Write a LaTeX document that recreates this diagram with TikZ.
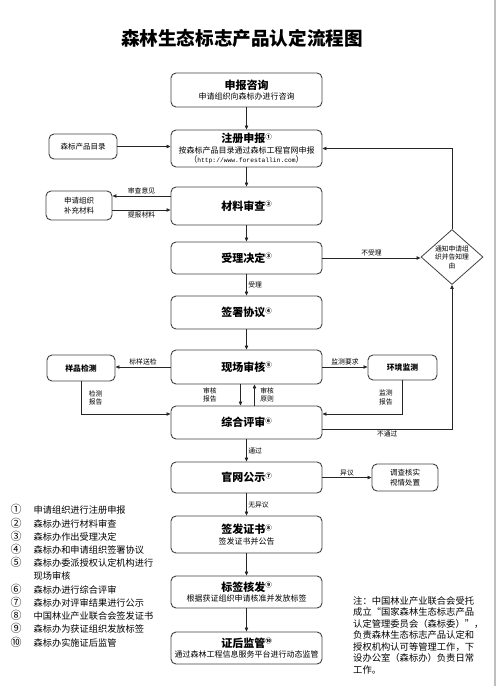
\documentclass[tikz,border=0pt]{standalone}
\usepackage{fontspec}
\setmainfont{Noto Sans CJK SC}
\setmonofont{Liberation Mono}
\usetikzlibrary{arrows.meta,shapes.geometric}

\tikzset{
  mainbox/.style={draw=black!75, line width=0.9pt, rounded corners=5pt,
    minimum width=151pt, inner sep=0pt, align=center,
    font=\fontsize{8}{10.5}\selectfont},
  sidebox/.style={draw=black!75, line width=0.9pt, rounded corners=5pt,
    inner sep=0pt, align=center, font=\fontsize{7.5}{10}\selectfont},
  decision/.style={draw=black!75, line width=0.8pt, diamond, aspect=1.13,
    minimum width=62pt, minimum height=55pt, inner sep=0pt, align=center,
    font=\fontsize{6.8}{8.5}\selectfont},
  arr/.style={-{Triangle[length=4pt,width=3.4pt]}, line width=0.7pt, draw=black!85},
  tag/.style={font=\fontsize{6.8}{8.5}\selectfont, inner sep=1.5pt, align=center},
}
\newcommand{\stepname}[2]{{\fontsize{11}{11}\selectfont\bfseries #1\raisebox{3.5pt}{\fontsize{6.5}{6.5}\selectfont #2}}}
\newcommand{\itemno}[1]{{\fontsize{11}{11}\selectfont #1}}

\begin{document}
\begin{tikzpicture}[x=1pt, y=-1pt]
	\useasboundingbox (0,0) rectangle (498,686);
	\draw[black!25, line width=1.5pt] (495,0) -- (495,686);

	\node[font=\fontsize{18.6}{20}\selectfont\bfseries] (title) at (242,38) {森林生态标志产品认定流程图};

	% main steps
	\node[mainbox, minimum height=34pt] (consult) at (246.5,90) {\stepname{申报咨询}{}\\申请组织向森标办进行咨询};
	\node[mainbox, minimum height=37pt] (reg) at (246.5,148.5) {\stepname{注册申报}{①}\\按森标产品目录通过森标工程官网申报\\[-1.5pt]（\texttt{\fontsize{6.3}{8}\selectfont http://www.forestallin.com}）};
	\node[mainbox, minimum height=38pt] (review) at (246.5,206) {\stepname{材料审查}{②}};
	\node[mainbox, minimum height=32pt] (decide) at (246.5,258) {\stepname{受理决定}{③}};
	\node[mainbox, minimum height=33pt] (sign) at (246.5,312.5) {\stepname{签署协议}{④}};
	\node[mainbox, minimum height=34pt] (audit) at (246.5,367) {\stepname{现场审核}{⑤}};
	\node[mainbox, minimum height=33pt] (judge) at (246.5,422.5) {\stepname{综合评审}{⑥}};
	\node[mainbox, minimum height=31pt] (publish) at (246.5,477.5) {\stepname{官网公示}{⑦}};
	\node[mainbox, minimum height=37pt] (certify) at (246.5,534.5) {\stepname{签发证书}{⑧}\\签发证书并公告};
	\node[mainbox, minimum height=32pt] (tagging) at (246.5,592) {\stepname{标签核发}{⑨}\\根据获证组织申请核准并发放标签};
	\node[mainbox, minimum height=32pt] (monitor) at (246.5,648) {\stepname{证后监管}{⑩}\\通过森林工程信息服务平台进行动态监管};

	% side boxes
	\node[sidebox, minimum width=68pt, minimum height=25pt] (catalog) at (83,146.5) {森标产品目录};
	\node[sidebox, minimum width=66pt, minimum height=29pt] (supp) at (79,205.5) {申请组织\\补充材料};
	\node[sidebox, minimum width=68pt, minimum height=26pt, font=\fontsize{7.8}{10}\selectfont\bfseries] (sample) at (81,368) {样品检测};
	\node[sidebox, minimum width=69pt, minimum height=25pt, font=\fontsize{7.8}{10}\selectfont\bfseries] (env) at (402.5,367.5) {环境监测};
	\node[sidebox, minimum width=66pt, minimum height=27pt] (probe) at (405,477.5) {调查核实\\视情处置};
	\node[decision] (notify) at (452,257) {通知申请组\\织并告知理\\由};

	% connectors
	\draw[arr] (consult) -- (reg);
	\draw[arr] (catalog.east) -- (catalog.east -| reg.west);
	\draw[arr] (notify.north) |- (reg.east);
	\draw[arr] (reg) -- (review);
	\coordinate (opinion) at ([yshift=10pt]review.west);
	\coordinate (resubmit) at ([yshift=-4pt]review.west);
	\draw[arr] (opinion) -- (opinion -| supp.east) node[tag, midway, above] {审查意见};
	\draw[arr] (resubmit -| supp.east) -- (resubmit) node[tag, midway, below] {提报材料};
	\draw[arr] (review) -- (decide);
	\draw[arr] (decide.east) -- (decide.east -| notify.west) node[tag, midway, above] {不受理};
	\draw[arr] (decide) -- (sign) node[tag, midway, right] {受理};
	\draw[arr] (sign) -- (audit);
	\draw[arr] (audit.west) -- (audit.west -| sample.east) node[tag, midway, above] {标样送检};
	\draw[arr] (audit.east) -- (audit.east -| env.west) node[tag, midway, above] {监测要求};
	\coordinate (intake) at ([yshift=8.5pt]judge.west);
	\coordinate (outtake) at ([yshift=8.5pt]judge.east);
	\coordinate (reject) at ([yshift=-6.5pt]judge.east);
	\draw[arr] (sample.south) |- (intake) node[tag, pos=0.25, right, xshift=6pt] {检测\\报告};
	\draw[arr] (env.south) |- (outtake) node[tag, pos=0.25, left, xshift=-8pt] {监测\\报告};
	\draw[arr] ([xshift=-6pt]audit.south) -- ([xshift=-6pt]judge.north) node[tag, midway, left, xshift=-22pt] {审核\\报告};
	\draw[arr] ([xshift=8pt]judge.north) -- ([xshift=8pt]audit.south) node[tag, midway, right, xshift=4pt] {审核\\原则};
	\draw[arr] (reject) -| (notify.south) node[tag, pos=0.25, below] {不通过};
	\draw[arr] (judge) -- (publish) node[tag, midway, right] {通过};
	\draw[arr] (publish.east) -- (publish.east -| probe.west) node[tag, midway, above] {异议};
	\draw[arr] (publish) -- (certify) node[tag, midway, right] {无异议};
	\draw[arr] (certify) -- (tagging);
	\draw[arr] (tagging) -- (monitor);

	% legend and note
	\node[anchor=north west, inner sep=0pt, font=\fontsize{9.2}{13.1}\selectfont] (legend) at (10.5,504.3) {%
		\begin{tabular}[t]{@{}l@{\hspace{12pt}}l@{}}
			\itemno{①} & 申请组织进行注册申报\\
			\itemno{②} & 森标办进行材料审查\\
			\itemno{③} & 森标办作出受理决定\\
			\itemno{④} & 森标办和申请组织签署协议\\
			\itemno{⑤} & 森标办委派授权认定机构进行\\
			  & 现场审核\\
			\itemno{⑥} & 森标办进行综合评审\\
			\itemno{⑦} & 森标办对评审结果进行公示\\
			\itemno{⑧} & 中国林业产业联合会签发证书\\
			\itemno{⑨} & 森标办为获证组织发放标签\\
			\itemno{⑩} & 森标办实施证后监管
		\end{tabular}};
	\node[anchor=north west, inner sep=0pt, align=left, font=\fontsize{9.3}{11.5}\selectfont] (note) at (353,596) {注：中国林业产业联合会受托\\成立“国家森林生态标志产品\\认定管理委员会（森标委）”，\\负责森林生态标志产品认定和\\授权机构认可等管理工作，下\\设办公室（森标办）负责日常\\工作。};
\end{tikzpicture}
\end{document}
